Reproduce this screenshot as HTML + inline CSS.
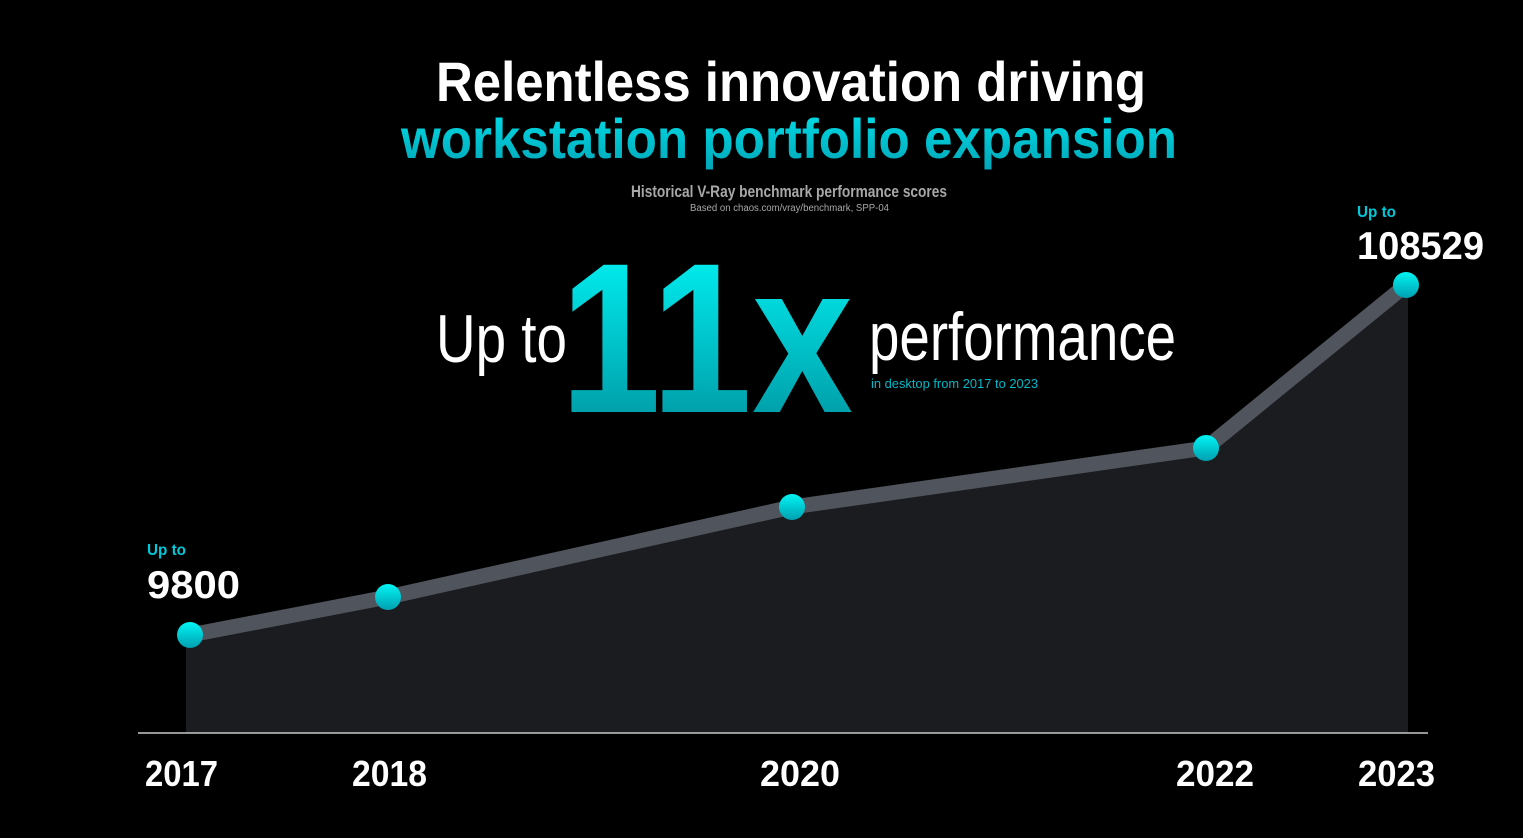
<!DOCTYPE html>
<html><head><meta charset="utf-8"><style>
html,body{margin:0;padding:0;background:#000;}
svg{display:block;}
text{font-family:"Liberation Sans",sans-serif;}
</style></head><body>
<svg width="1523" height="838" viewBox="0 0 1523 838" xmlns="http://www.w3.org/2000/svg">
<defs>
<linearGradient id="g11" x1="0" y1="0" x2="0" y2="1"><stop offset="0" stop-color="#00ffff"/><stop offset="1" stop-color="#008b98"/></linearGradient>
<linearGradient id="gt" x1="0" y1="0" x2="0" y2="1"><stop offset="0" stop-color="#00e0ea"/><stop offset="1" stop-color="#00a6b8"/></linearGradient>
<linearGradient id="gc" x1="0" y1="0" x2="0" y2="1"><stop offset="0" stop-color="#00f4f4"/><stop offset="1" stop-color="#00a0b0"/></linearGradient>
</defs>
<rect width="1523" height="838" fill="#000"/>
<text x="436" y="101" font-size="56" font-weight="bold" fill="#fff" textLength="710" lengthAdjust="spacingAndGlyphs">Relentless innovation driving</text>
<text x="401" y="158" font-size="56" font-weight="bold" fill="url(#gt)" textLength="776" lengthAdjust="spacingAndGlyphs">workstation portfolio expansion</text>
<text x="631" y="197" font-size="17" font-weight="bold" fill="#a8a8a8" textLength="316" lengthAdjust="spacingAndGlyphs">Historical V-Ray benchmark performance scores</text>
<text x="690" y="211" font-size="10" fill="#a8a8a8" textLength="199" lengthAdjust="spacingAndGlyphs">Based on chaos.com/vray/benchmark, SPP-04</text>
<text x="436" y="362" font-size="68" fill="#fff" textLength="131" lengthAdjust="spacingAndGlyphs">Up to</text>
<text x="560" y="412" font-size="214" font-weight="bold" fill="url(#g11)" textLength="293" lengthAdjust="spacingAndGlyphs">11x</text>
<text x="869" y="360" font-size="68" fill="#fff" textLength="307" lengthAdjust="spacingAndGlyphs">performance</text>
<text x="871" y="388" font-size="13" fill="#00b8c8" textLength="167" lengthAdjust="spacingAndGlyphs">in desktop from 2017 to 2023</text>
<polygon points="186,635 388,597 792,507 1206,448 1408,285 1408,733 186,733" fill="#1b1c20"/>
<polyline points="190,635 388,597 792,507 1206,448 1406,285" fill="none" stroke="#50545c" stroke-width="15" stroke-linejoin="round"/>
<line x1="138" y1="733" x2="1428" y2="733" stroke="#c8c8c8" stroke-width="1.5"/>
<g fill="url(#gc)">
<circle cx="190" cy="635" r="13"/><circle cx="388" cy="597" r="13"/><circle cx="792" cy="507" r="13"/><circle cx="1206" cy="448" r="13"/><circle cx="1406" cy="285" r="13"/>
</g>
<text x="147" y="555" font-size="16" font-weight="bold" fill="#00c8d8" textLength="39" lengthAdjust="spacingAndGlyphs">Up to</text>
<text x="147" y="598" font-size="39" font-weight="bold" fill="#fff" textLength="93" lengthAdjust="spacingAndGlyphs">9800</text>
<text x="1357" y="217" font-size="16" font-weight="bold" fill="#00c8d8" textLength="39" lengthAdjust="spacingAndGlyphs">Up to</text>
<text x="1357" y="259" font-size="39" font-weight="bold" fill="#fff" textLength="127" lengthAdjust="spacingAndGlyphs">108529</text>
<g font-size="36" font-weight="bold" fill="#fff">
<text x="145" y="786" textLength="73" lengthAdjust="spacingAndGlyphs">2017</text>
<text x="352" y="786" textLength="75" lengthAdjust="spacingAndGlyphs">2018</text>
<text x="760" y="786" textLength="80" lengthAdjust="spacingAndGlyphs">2020</text>
<text x="1176" y="786" textLength="78" lengthAdjust="spacingAndGlyphs">2022</text>
<text x="1358" y="786" textLength="77" lengthAdjust="spacingAndGlyphs">2023</text>
</g>
</svg>
</body></html>
